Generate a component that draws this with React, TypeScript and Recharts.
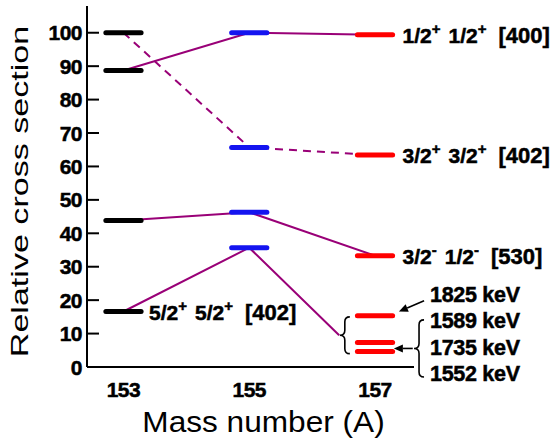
import React from "react";
import { LineChart, Line, XAxis, YAxis, ReferenceLine } from "recharts";

const FONT = '"Liberation Sans", Arial, Helvetica, sans-serif';
const PURPLE = "#990077";

// axis
const massTicks = [153, 155, 157];
const yTicks = [0, 10, 20, 30, 40, 50, 60, 70, 80, 90, 100];

// relative cross sections of the levels seen in each isotope
const levels153 = [100, 88.7, 43.8, 16.6];
const levels155 = [100, 65.7, 46.3, 35.7];
const levels157 = [99.4, 63.4, 33.3, 15.3, 7.3, 4.6];

// orbital labels next to the levels
const label400 = ["1/2", "+", "1/2", "+", "[400]"];
const label402 = ["3/2", "+", "3/2", "+", "[402]"];
const label530 = ["3/2", "-", "1/2", "-", "[530]"];
const label402b = ["5/2", "+", "5/2", "+", "[402]"];

// connections between the same orbital in neighbouring isotopes
const path400 = [88.7, 100, 99.4];
const path402 = [100, 65.7, 63.4];
const path530 = [43.8, 46.3, 33.3];
const path402b = [16.6, 35.7];

// the 5/2+ strength is spread over a group of levels in 157
const groupBrace = { x: 156.52, top: 15, bottom: 4 };
const groupLineEnd = 156.43;
const keVBrace = { x: 157.7, top: 14.1, bottom: -3 };
const keVTop = "1825 keV";
const keVGroup = ["1589 keV", "1735 keV", "1552 keV"];
const arrowTop = { x1: 157.78, y1: 19.8, x2: 157.38, y2: 16.6 };
const arrowGroup = { x1: 157.6, x2: 157.3 };

const HALF = 0.28;

const toPoints = (vals: number[]) => vals.map((v, i) => ({ x: massTicks[i], y: v }));
const mid = (a: number, b: number) => (a + b) / 2;

// bold text drawn with a thin outline so it reads heavy
const heavy = { fontFamily: FONT, fontWeight: "bold" as const, fill: "#000", stroke: "#000", strokeWidth: 0.5 };

const OrbitalText = ({ x, y, parts }: { x: number; y: number; parts: string[] }) => (
  <text x={x} y={y} fontSize={21} {...heavy}>
    <tspan>{parts[0]}</tspan>
    <tspan dy={-9} fontSize={15}>{parts[1]}</tspan>
    <tspan dx={8} dy={9}>{parts[2]}</tspan>
    <tspan dy={-9} fontSize={15}>{parts[3]}</tspan>
    <tspan dx={12} dy={9} fontSize={22}>{parts[4]}</tspan>
  </text>
);

const levelShape = (color: string, parts?: string[], gap = 10) => (p: any) => (
  <g>
    <line x1={p.x1} y1={p.y1} x2={p.x2} y2={p.y2} stroke={color} strokeWidth={5} strokeLinecap="round" />
    {parts && <OrbitalText x={p.x2 + gap} y={p.y2 + 8} parts={parts} />}
  </g>
);

const braceShape = (texts?: string[]) => (p: any) => {
  const x = p.x1;
  const y1 = Math.min(p.y1, p.y2);
  const y2 = Math.max(p.y1, p.y2);
  const m = (y1 + y2) / 2;
  const w = 5;
  const r = 5;
  const d = `M${x + w},${y1} Q${x},${y1} ${x},${y1 + r} L${x},${m - r} Q${x},${m} ${x - w},${m} Q${x},${m} ${x},${m + r} L${x},${y2 - r} Q${x},${y2} ${x + w},${y2}`;
  return (
    <g>
      <path d={d} fill="none" stroke="#000" strokeWidth={1.6} />
      {texts &&
        texts.map((t, i) => (
          <text key={t} x={x + 11} y={m - 20 + i * 26.5} fontSize={21.5} letterSpacing={-0.3} {...heavy}>
            {t}
          </text>
        ))}
    </g>
  );
};

const arrowShape = (text?: string) => (p: any) => {
  const { x1, y1, x2, y2 } = p;
  const a = Math.atan2(y2 - y1, x2 - x1);
  const len = 9;
  const hw = 4;
  const bx = x2 - len * Math.cos(a);
  const by = y2 - len * Math.sin(a);
  const nx = -Math.sin(a) * hw;
  const ny = Math.cos(a) * hw;
  return (
    <g>
      <line x1={x1} y1={y1} x2={bx} y2={by} stroke="#000" strokeWidth={1.6} />
      <polygon points={`${x2},${y2} ${bx + nx},${by + ny} ${bx - nx},${by - ny}`} fill="#000" />
      {text && (
        <text x={x1 + 6} y={y1 + 1} fontSize={21.5} letterSpacing={-0.3} {...heavy}>
          {text}
        </text>
      )}
    </g>
  );
};

const YTick = (props: any) => {
  const { x, y, payload } = props;
  return (
    <g>
      <line x1={x + 5} x2={x + 17} y1={y} y2={y} stroke="#000" strokeWidth={2} />
      <text x={x} y={y} dy="0.36em" textAnchor="end" fontSize={21} letterSpacing={-0.5} {...heavy}>
        {payload.value}
      </text>
    </g>
  );
};

const XTick = (props: any) => {
  const { x, y, payload } = props;
  return (
    <text x={x} y={y} dy="0.71em" textAnchor="middle" fontSize={21} letterSpacing={-0.5} {...heavy}>
      {payload.value}
    </text>
  );
};

const YTitle = (props: any) => {
  const vb = props.viewBox || { x: 0, y: 6, width: 87, height: 361 };
  return (
    <text
      transform={`translate(${vb.x + 27.5},${vb.y + vb.height / 2 + 5}) rotate(-90) scale(1.42,1)`}
      textAnchor="middle"
      fontFamily={FONT}
      fontSize={24}
      fill="#000"
    >
      Relative cross section
    </text>
  );
};

const XTitle = (props: any) => {
  const vb = props.viewBox || { x: 87, y: 367, width: 327, height: 77 };
  return (
    <text
      transform={`translate(${vb.x + vb.width / 2 + 13},${vb.y + 65}) scale(1.09,1)`}
      textAnchor="middle"
      fontFamily={FONT}
      fontSize={29}
      fill="#000"
    >
      Mass number (A)
    </text>
  );
};

const seg = (m: number, v: number) => [
  { x: m - HALF, y: v },
  { x: m + HALF, y: v },
];

export default function App() {
  const lines = [
    { key: "400", pts: toPoints(path400), dash: undefined },
    { key: "402", pts: toPoints(path402), dash: "8 6" },
    { key: "530", pts: toPoints(path530), dash: undefined },
    {
      key: "402b",
      pts: [...toPoints(path402b), { x: groupLineEnd, y: mid(groupBrace.top, groupBrace.bottom) }],
      dash: undefined,
    },
  ];
  const labels157: Record<number, string[]> = { 0: label400, 1: label402, 2: label530 };

  return (
    <div style={{ position: "absolute", left: 0, top: 0, background: "#fff" }}>
      <LineChart width={551} height={444} margin={{ top: 6, right: 137, bottom: 0, left: 0 }}>
        <XAxis
          type="number"
          dataKey="x"
          domain={[152.42, 157.62]}
          ticks={massTicks}
          allowDataOverflow
          tickLine={false}
          tickSize={0}
          tickMargin={15}
          height={77}
          axisLine={{ stroke: "#000", strokeWidth: 2 }}
          tick={<XTick />}
          label={{ content: XTitle }}
        />
        <YAxis
          type="number"
          domain={[0, 108]}
          ticks={yTicks}
          allowDataOverflow
          width={87}
          tickLine={false}
          tickSize={0}
          tickMargin={5}
          axisLine={{ stroke: "#000", strokeWidth: 2 }}
          tick={<YTick />}
          label={{ content: YTitle }}
        />
        {lines.map((l) => (
          <Line
            key={l.key}
            data={l.pts}
            dataKey="y"
            type="linear"
            stroke={PURPLE}
            strokeWidth={2}
            strokeDasharray={l.dash}
            dot={false}
            activeDot={false}
            isAnimationActive={false}
          />
        ))}
        {levels153.map((v, i) => (
          <ReferenceLine
            key={`a${i}`}
            segment={seg(153, v)}
            ifOverflow="visible"
            shape={levelShape("#000", i === 3 ? label402b : undefined, 8)}
          />
        ))}
        {levels155.map((v, i) => (
          <ReferenceLine key={`b${i}`} segment={seg(155, v)} ifOverflow="visible" shape={levelShape("#1414f0")} />
        ))}
        {levels157.map((v, i) => (
          <ReferenceLine
            key={`c${i}`}
            segment={seg(157, v)}
            ifOverflow="visible"
            shape={levelShape("#ff0000", labels157[i], 10)}
          />
        ))}
        <ReferenceLine
          segment={[
            { x: groupBrace.x, y: groupBrace.top },
            { x: groupBrace.x, y: groupBrace.bottom },
          ]}
          ifOverflow="visible"
          shape={braceShape()}
        />
        <ReferenceLine
          segment={[
            { x: keVBrace.x, y: keVBrace.top },
            { x: keVBrace.x, y: keVBrace.bottom },
          ]}
          ifOverflow="visible"
          shape={braceShape(keVGroup)}
        />
        <ReferenceLine
          segment={[
            { x: arrowTop.x1, y: arrowTop.y1 },
            { x: arrowTop.x2, y: arrowTop.y2 },
          ]}
          ifOverflow="visible"
          shape={arrowShape(keVTop)}
        />
        <ReferenceLine
          segment={[
            { x: arrowGroup.x1, y: mid(keVBrace.top, keVBrace.bottom) },
            { x: arrowGroup.x2, y: mid(keVBrace.top, keVBrace.bottom) },
          ]}
          ifOverflow="visible"
          shape={arrowShape()}
        />
      </LineChart>
    </div>
  );
}
